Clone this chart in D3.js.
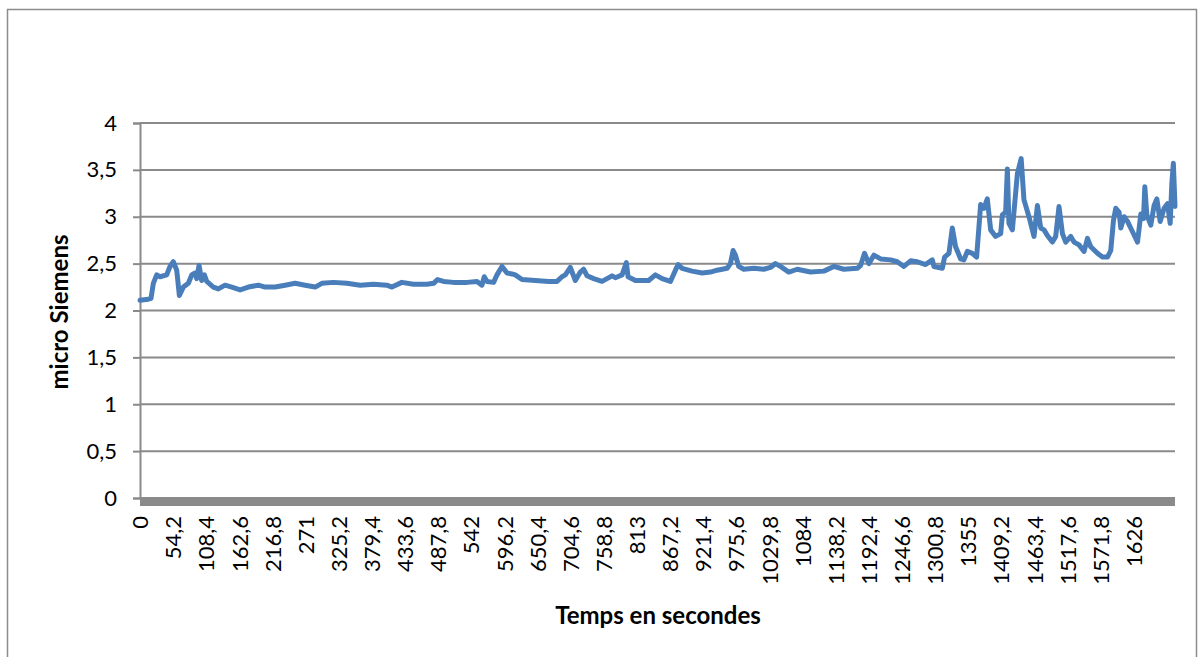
<!DOCTYPE html>
<html>
<head>
<meta charset="utf-8">
<script src="https://cdn.jsdelivr.net/npm/d3@7/dist/d3.min.js"></script>
<style>
  html, body { margin: 0; padding: 0; background: #fff; }
  svg { display: block; }
</style>
</head>
<body>
<svg id="chart" width="1199" height="657"></svg>
<script>
// ---- data ----
const timeSec = [
  0, 13.6, 18, 21.8, 27.3, 32.8, 43.7, 49.1, 54.5, 60.1, 64.4, 70.9, 79.1, 84.7, 90.1, 92.8, 96.6, 101, 105.3, 109.2,
  120, 128.2, 139.2, 150.2, 163.8, 177.3, 193.7, 204.7, 221.1, 237.4, 253.8, 270.2, 286.6, 297.5, 316.5, 338.5, 360.3,
  382, 404, 412.2, 428.5, 447.5, 469.5, 480.3, 486.8, 496.7, 513, 535, 551.4, 559.5, 563.3, 567.7, 578.5, 584.1, 592.3,
  600.5, 608.7, 614, 625, 646.8, 668.6, 682.3, 690.5, 695.9, 704.1, 712.3, 720.5, 725.9, 731.5, 742.3, 756, 764.2,
  772.4, 777.8, 788.8, 795.8, 798.6, 810.6, 832.3, 843.3, 854.3, 867.9, 876.1, 880.5, 887, 903.4, 919.8, 933.4, 944.3,
  960.7, 966.1, 970.5, 974.3, 979.7, 987.9, 1004.3, 1020.6, 1031.6, 1039.8, 1047.9, 1061.6, 1075.4, 1097.1, 1118.9,
  1135.3, 1151.6, 1173.6, 1179, 1185.5, 1192.6, 1200.8, 1211.8, 1228.1, 1239.1, 1249.9, 1260.9, 1271.8, 1285.4, 1296.4,
  1299, 1312.8, 1316.5, 1323.6, 1329.1, 1334.5, 1342.8, 1348.1, 1353.7, 1361.9, 1368.9, 1372.7, 1375.5, 1380.9, 1386.4,
  1391.9, 1400, 1408.3, 1411, 1416.4, 1419.2, 1421.8, 1427.4, 1435.6, 1441.8, 1446.4, 1454.6, 1462.8, 1468.4, 1473.8,
  1479.2, 1484.7, 1492.9, 1498.3, 1503.7, 1509.3, 1514.7, 1522.9, 1528.3, 1536.5, 1544.7, 1550.3, 1555.6, 1566.6,
  1574.8, 1583, 1588.4, 1592.8, 1596.6, 1602, 1604.8, 1610.2, 1615.8, 1624, 1632.2, 1637.6, 1642, 1644.1, 1647.4,
  1653.9, 1659.3, 1663.8, 1669.2, 1675.7, 1681.3, 1685.6, 1688.3, 1690.8, 1692.3, 1693.5
];
const microSiemens = [
  2.11, 2.12, 2.13, 2.29, 2.38, 2.36, 2.38, 2.47, 2.52, 2.43, 2.16, 2.25, 2.29, 2.38, 2.40, 2.34, 2.48, 2.32, 2.38, 2.31,
  2.25, 2.23, 2.27, 2.25, 2.22, 2.25, 2.27, 2.25, 2.25, 2.27, 2.29, 2.27, 2.25, 2.29, 2.30, 2.29, 2.27,
  2.28, 2.27, 2.25, 2.30, 2.28, 2.28, 2.29, 2.33, 2.31, 2.30, 2.30, 2.31, 2.27, 2.36, 2.31, 2.30, 2.38, 2.47,
  2.40, 2.39, 2.38, 2.33, 2.32, 2.31, 2.31, 2.36, 2.38, 2.46, 2.32, 2.41, 2.44, 2.37, 2.34, 2.31, 2.34,
  2.37, 2.35, 2.38, 2.51, 2.36, 2.32, 2.32, 2.38, 2.34, 2.31, 2.43, 2.49, 2.45, 2.42, 2.40, 2.41, 2.43,
  2.45, 2.50, 2.64, 2.59, 2.47, 2.44, 2.45, 2.44, 2.46, 2.50, 2.47, 2.41, 2.44, 2.41, 2.42,
  2.47, 2.44, 2.45, 2.48, 2.61, 2.50, 2.59, 2.55, 2.54, 2.52, 2.47, 2.53, 2.52, 2.49, 2.54,
  2.47, 2.45, 2.57, 2.61, 2.88, 2.68, 2.55, 2.54, 2.63, 2.61, 2.57, 2.89, 3.13, 3.09, 3.19,
  2.86, 2.79, 2.82, 3.02, 3.05, 3.51, 2.93, 2.86, 3.46, 3.62, 3.18, 3.00, 2.79, 3.12, 2.88,
  2.86, 2.80, 2.73, 2.79, 3.11, 2.82, 2.73, 2.79, 2.73, 2.70, 2.63, 2.77, 2.68, 2.61,
  2.57, 2.57, 2.64, 2.96, 3.09, 3.05, 2.88, 3.00, 2.95, 2.84, 2.73, 3.03, 2.98, 3.32, 3.02,
  2.91, 3.12, 3.19, 2.95, 3.09, 3.14, 2.93, 3.35, 3.57, 3.32, 3.11
];
const xTickValues = [0, 54.2, 108.4, 162.6, 216.8, 271, 325.2, 379.4, 433.6, 487.8, 542, 596.2, 650.4, 704.6, 758.8,
  813, 867.2, 921.4, 975.6, 1029.8, 1084, 1138.2, 1192.4, 1246.6, 1300.8, 1355, 1409.2, 1463.4, 1517.6, 1571.8, 1626];
const xTickLabels = ["0", "54,2", "108,4", "162,6", "216,8", "271", "325,2", "379,4", "433,6", "487,8", "542", "596,2",
  "650,4", "704,6", "758,8", "813", "867,2", "921,4", "975,6", "1029,8", "1084", "1138,2", "1192,4", "1246,6",
  "1300,8", "1355", "1409,2", "1463,4", "1517,6", "1571,8", "1626"];
const yTickValues = [0, 0.5, 1, 1.5, 2, 2.5, 3, 3.5, 4];
const yTickLabels = ["0", "0,5", "1", "1,5", "2", "2,5", "3", "3,5", "4"];
const xTitle = "Temps en secondes";
const yTitle = "micro Siemens";

// ---- layout ----
const svg = d3.select("#chart");
const plotL = 140, plotR = 1175, plotT = 123, plotB = 498;
const x = d3.scaleLinear().domain([0, 1693.5]).range([plotL, plotR]);
const y = d3.scaleLinear().domain([0, 4]).range([plotB, plotT]);
const gridColor = "#8a8a8a";
const font = "Lato, 'Open Sans', sans-serif";

// outer chart border
svg.append("rect").attr("x", 7.5).attr("y", 9.5).attr("width", 1189).attr("height", 660)
  .attr("fill", "#fff").attr("stroke", "#8c8c8c").attr("stroke-width", 1.5);

// y gridlines
svg.append("g").selectAll("line").data(yTickValues.filter(d => d > 0)).join("line")
  .attr("x1", plotL).attr("x2", plotR).attr("y1", d => y(d)).attr("y2", d => y(d))
  .attr("stroke", gridColor).attr("stroke-width", 2);

// y axis
const yAxis = d3.axisLeft(y).tickValues(yTickValues).tickSize(7).tickPadding(15)
  .tickFormat((d, i) => yTickLabels[i]);
const gy = svg.append("g").attr("transform", `translate(${plotL},0)`).call(yAxis);
gy.select(".domain").attr("stroke", gridColor).attr("stroke-width", 2);
gy.selectAll(".tick line").attr("stroke", gridColor).attr("stroke-width", 2);
gy.selectAll(".tick text").attr("font-family", font).attr("font-size", 22).attr("fill", "#000")
  .attr("x", -23);

// x axis: dense category tick marks form a thick grey band
svg.append("rect").attr("x", plotL).attr("y", plotB - 1).attr("width", plotR - plotL).attr("height", 9)
  .attr("fill", gridColor);

const xAxis = d3.axisBottom(x).tickValues(xTickValues).tickSize(0).tickPadding(0)
  .tickFormat((d, i) => xTickLabels[i]);
const gx = svg.append("g").attr("transform", `translate(0,${plotB})`).call(xAxis);
gx.select(".domain").remove();
gx.selectAll(".tick text")
  .attr("font-family", font).attr("font-size", 22).attr("fill", "#000")
  .attr("transform", "rotate(-90)")
  .attr("text-anchor", "end")
  .attr("x", -18).attr("y", 0).attr("dy", "0.35em");

// data line
const line = d3.line().x((d, i) => x(timeSec[i])).y(d => y(d));
svg.append("path").datum(microSiemens)
  .attr("d", line)
  .attr("fill", "none")
  .attr("stroke", "#4a7ebb")
  .attr("stroke-width", 5)
  .attr("stroke-linejoin", "round")
  .attr("stroke-linecap", "round");

// titles
svg.append("text").attr("x", 658).attr("y", 624).attr("text-anchor", "middle")
  .attr("font-family", font).attr("font-weight", "bold").attr("font-size", 24).text(xTitle);
svg.append("text").attr("transform", "translate(68,312) rotate(-90)").attr("text-anchor", "middle")
  .attr("font-family", font).attr("font-weight", "bold").attr("font-size", 24).text(yTitle);
</script>
</body>
</html>
